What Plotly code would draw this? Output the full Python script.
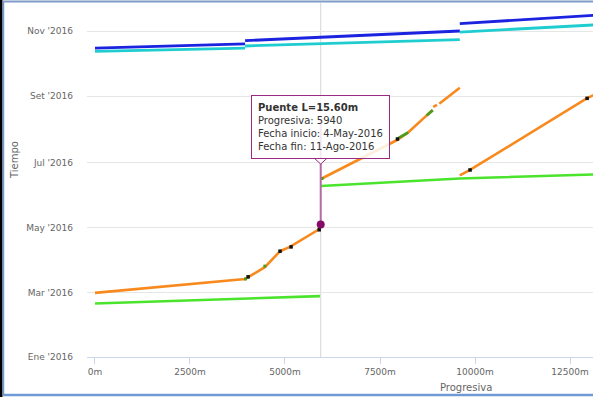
"""Diagrama espacio-tiempo (Progresiva vs Tiempo) with a hovered bridge tooltip."""

import plotly.graph_objects as go

# ---------------------------------------------------------------------------
# Data (progresiva in metres, dates of execution)
# ---------------------------------------------------------------------------
blue_m = [0, 3950, None, 3950, 9600, None, 9600, 13300]
blue_dates = ["2016-10-16", "2016-10-20", None, "2016-10-23", "2016-11-01", None, "2016-11-08", "2016-11-16"]

cyan_m = [0, 3950, None, 3950, 9600, None, 9600, 13300]
cyan_dates = ["2016-10-13", "2016-10-16", None, "2016-10-18", "2016-10-24", None, "2016-10-31", "2016-11-07"]

orange_m = [0, 3950, 4470, 4870, 5130, 5920, None,
            5970, 7950, 8240, 8740, 8880, None, 8900, 9000, None, 9060, 9600, None,
            9600, 9870, 12940, 13300]
orange_dates = ["2016-03-01", "2016-03-14", "2016-03-25", "2016-04-09", "2016-04-13", "2016-04-30", None,
                "2016-06-16", "2016-07-22", "2016-07-29", "2016-08-14", "2016-08-19", None,
                "2016-08-22", "2016-08-24", None, "2016-08-25", "2016-09-09", None,
                "2016-06-19", "2016-06-24", "2016-08-30", "2016-09-05"]

green_m = [0, 5920, None, 5940, 9600, 13300]
green_dates = ["2016-02-20", "2016-02-27", None, "2016-06-09", "2016-06-16", "2016-06-20"]

darkgreen_m = [7990, 8240, None, 8730, 8890]
darkgreen_dates = ["2016-07-24", "2016-07-29", None, "2016-08-14", "2016-08-19"]

darkgreen_pts_m = [3960, 4470, 5975]
darkgreen_pts_dates = ["2016-03-14", "2016-03-26", "2016-06-16"]

black_pts_m = [4030, 4870, 5160, 5900, 7960, 9870, 12950]
black_pts_dates = ["2016-03-16", "2016-04-09", "2016-04-13", "2016-04-29", "2016-07-23", "2016-06-24", "2016-08-30"]

# Bridge (Puente L=15.60m) at progresiva 5940
puente_m = [5940, 5940]
puente_dates = ["2016-05-04", "2016-08-11"]

x_ticks = [0, 2500, 5000, 7500, 10000, 12500]
x_ticktext = ["0m", "2500m", "5000m", "7500m", "10000m", "12500m"]
y_ticks = ["2016-01-01", "2016-03-01", "2016-05-01", "2016-07-01", "2016-09-01", "2016-11-01"]
y_ticktext = ["Ene '2016", "Mar '2016", "May '2016", "Jul '2016", "Set '2016", "Nov '2016"]

tooltip_lines = ["<b>Puente L=15.60m</b>", "Progresiva: 5940",
                 "Fecha inicio: 4-May-2016", "Fecha fin: 11-Ago-2016"]

# ---------------------------------------------------------------------------
# Layout geometry
# ---------------------------------------------------------------------------
W, H = 593, 397
M_L, M_R, M_T, M_B = 87, 0, 3, 40
PW, PH = W - M_L - M_R, H - M_T - M_B
FONT = "DejaVu Sans"
PURPLE = "#9a2a80"


def px(xp):
    return (xp - M_L) / PW


def py(yp):
    return (H - M_B - yp) / PH


fig = go.Figure()


def add_line(xs, ys, color, width):
    fig.add_trace(go.Scatter(x=xs, y=ys, mode="lines", line=dict(color=color, width=width),
                             connectgaps=False, hoverinfo="skip", showlegend=False))


add_line(green_m, green_dates, "#4be42c", 2.6)
add_line(orange_m, orange_dates, "#f8891d", 2.6)
add_line(darkgreen_m, darkgreen_dates, "#4c9c1c", 2.8)
add_line(cyan_m, cyan_dates, "#1fcdd0", 2.8)
add_line(blue_m, blue_dates, "#1b22e0", 2.8)

fig.add_trace(go.Scatter(x=darkgreen_pts_m, y=darkgreen_pts_dates, mode="markers",
                         marker=dict(color="#4c9c1c", size=3, symbol="square"),
                         hoverinfo="skip", showlegend=False))
fig.add_trace(go.Scatter(x=black_pts_m, y=black_pts_dates, mode="markers",
                         marker=dict(color="#111111", size=3.5, symbol="square"),
                         hoverinfo="skip", showlegend=False))

# hovered bridge series: line plus the highlighted start point
add_line(puente_m, puente_dates, "#b46aa4", 2)
fig.add_trace(go.Scatter(x=puente_m[:1], y=puente_dates[:1], mode="markers",
                         marker=dict(color="#860a68", size=8, opacity=1),
                         hoverinfo="skip", showlegend=False))

# crosshair
fig.add_shape(type="line", xref="x", yref="paper", x0=puente_m[0], x1=puente_m[0],
              y0=0, y1=1, line=dict(color="#d6d6d6", width=1), layer="below")

# tooltip box + pointer
tip_y = "2016-07-04 05:00"
fig.add_annotation(x=puente_m[0], y=tip_y, xref="x", yref="y", showarrow=False,
                   xanchor="center", yanchor="bottom", align="left",
                   text="<br>".join(tooltip_lines),
                   font=dict(family=FONT, size=10, color="#333333"),
                   bgcolor="rgba(255,255,255,0.85)", bordercolor=PURPLE,
                   borderwidth=1, borderpad=6)
fig.add_shape(type="path", xref="x", yref="y", xsizemode="pixel", ysizemode="pixel",
              xanchor=puente_m[0], yanchor=tip_y,
              path="M -6 0.5 L 0 -5 L 6 0.5", fillcolor="white",
              line=dict(color=PURPLE, width=1), layer="above")

# axis titles (the original chart is cropped, so they sit off-centre)
fig.add_annotation(x=px(466), y=py(387), xref="paper", yref="paper", text="Progresiva",
                   xanchor="center", yanchor="middle",
                   showarrow=False, font=dict(family=FONT, size=10, color="#666666"))
fig.add_annotation(x=px(14), y=py(160), xref="paper", yref="paper", text="Tiempo",
                   xanchor="center", yanchor="middle",
                   textangle=-90, showarrow=False, font=dict(family=FONT, size=10, color="#666666"))

# screenshot frame
fig.add_shape(type="rect", xref="paper", yref="paper", x0=px(0), x1=px(2.5), y0=py(H), y1=py(0),
              fillcolor="#000000", line=dict(width=0), layer="above")
fig.add_shape(type="line", xref="paper", yref="paper", x0=px(3.5), x1=px(3.5), y0=py(395), y1=py(1.5),
              line=dict(color="#6f9ad6", width=1.5), layer="above")
fig.add_shape(type="line", xref="paper", yref="paper", x0=px(3), x1=px(W), y0=py(395), y1=py(395),
              line=dict(color="#6f9ad6", width=2.5), layer="above")
fig.add_shape(type="line", xref="paper", yref="paper", x0=px(3), x1=px(W), y0=py(1.5), y1=py(1.5),
              line=dict(color="#7f9cc8", width=2), layer="above")

fig.update_layout(
    width=W, height=H,
    margin=dict(l=M_L, r=M_R, t=M_T, b=M_B, autoexpand=False),
    paper_bgcolor="white", plot_bgcolor="white",
    font=dict(family=FONT, color="#666666"),
    showlegend=False,
    xaxis=dict(range=[-210, 13105], tickvals=x_ticks, ticktext=x_ticktext,
               automargin=False,
               showgrid=False, zeroline=False, showline=True, linecolor="#ccd6eb",
               ticks="outside", ticklen=6, tickcolor="#ccd6eb",
               tickfont=dict(family=FONT, size=9, color="#666666")),
    yaxis=dict(type="date", range=["2016-01-01", "2016-11-27 05:00"],
               tickvals=y_ticks, ticktext=y_ticktext, automargin=False,
               showgrid=True, gridcolor="#e6e6e6", zeroline=False, showline=False,
               ticklabelstandoff=13,
               tickfont=dict(family=FONT, size=9, color="#666666")),
)

# the page is photographed at exactly the figure size, so drop the browser's body margin
fig.write_html("out.html", config={"displayModeBar": False},
               post_script="document.body.style.margin='0';")
